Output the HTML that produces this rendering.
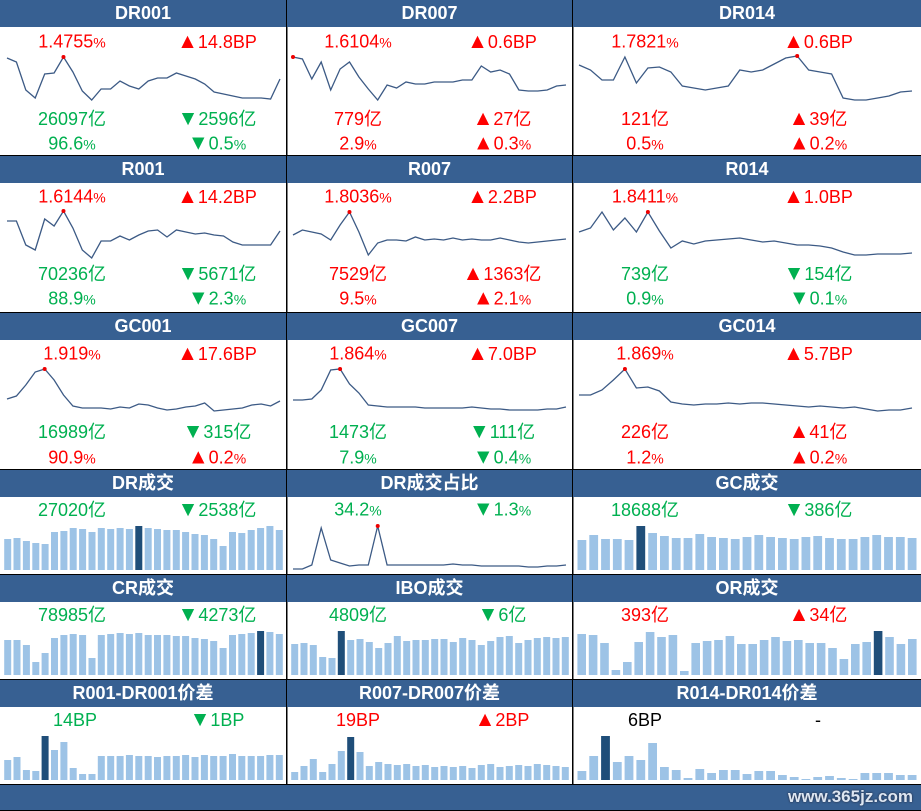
<!DOCTYPE html>
<html><head><meta charset="utf-8"><style>
body{margin:0;width:921px;height:811px;background:#fff;overflow:hidden;position:relative;font-family:"Liberation Sans","Noto Sans CJK SC",sans-serif}
.h{position:absolute;height:27px;background:#376092;color:#fff;font-weight:bold;font-size:18px;line-height:27px;text-align:center}
.t{position:absolute;font-size:18px;line-height:20px;transform:translate(-50%,-50%);white-space:nowrap}
.r{color:#f00}.g{color:#00b050}.k{color:#000}
.t small{font-size:14px}
.t b{font-weight:normal;font-size:21px}
svg{position:absolute;left:0;top:0}
</style></head><body>
<svg id="s" width="921" height="811"></svg>
<div class="h" style="left:0;top:0;width:286px">DR001</div>
<div class="h" style="left:287px;top:0;width:285px">DR007</div>
<div class="h" style="left:573px;top:0;width:348px">DR014</div>
<div class="h" style="left:0;top:156px;width:286px">R001</div>
<div class="h" style="left:287px;top:156px;width:285px">R007</div>
<div class="h" style="left:573px;top:156px;width:348px">R014</div>
<div class="h" style="left:0;top:313px;width:286px">GC001</div>
<div class="h" style="left:287px;top:313px;width:285px">GC007</div>
<div class="h" style="left:573px;top:313px;width:348px">GC014</div>
<div class="h" style="left:0;top:470px;width:286px">DR成交</div>
<div class="h" style="left:287px;top:470px;width:285px">DR成交占比</div>
<div class="h" style="left:573px;top:470px;width:348px">GC成交</div>
<div class="h" style="left:0;top:575px;width:286px">CR成交</div>
<div class="h" style="left:287px;top:575px;width:285px">IBO成交</div>
<div class="h" style="left:573px;top:575px;width:348px">OR成交</div>
<div class="h" style="left:0;top:680px;width:286px">R001-DR001价差</div>
<div class="h" style="left:287px;top:680px;width:285px">R007-DR007价差</div>
<div class="h" style="left:573px;top:680px;width:348px">R014-DR014价差</div>
<div class="h" style="left:0;top:785px;width:921px;height:25px"></div>
<div style="position:absolute;right:8px;top:787px;color:#dde6f2;font-size:17px;font-weight:bold;text-shadow:0 0 2px #223">www.365jz.com</div>

<div class="t r" style="left:72px;top:42px">1.4755<small>%</small></div><div class="t r" style="left:217px;top:42px"><b>▲</b>14.8BP</div>
<div class="t g" style="left:72px;top:119px">26097亿</div><div class="t g" style="left:217px;top:119px"><b>▼</b>2596亿</div>
<div class="t g" style="left:72px;top:144px">96.6<small>%</small></div><div class="t g" style="left:217px;top:144px"><b>▼</b>0.5<small>%</small></div>
<div class="t r" style="left:358px;top:42px">1.6104<small>%</small></div><div class="t r" style="left:502px;top:42px"><b>▲</b>0.6BP</div>
<div class="t r" style="left:358px;top:119px">779亿</div><div class="t r" style="left:502px;top:119px"><b>▲</b>27亿</div>
<div class="t r" style="left:358px;top:144px">2.9<small>%</small></div><div class="t r" style="left:502px;top:144px"><b>▲</b>0.3<small>%</small></div>
<div class="t r" style="left:645px;top:42px">1.7821<small>%</small></div><div class="t r" style="left:818px;top:42px"><b>▲</b>0.6BP</div>
<div class="t r" style="left:645px;top:119px">121亿</div><div class="t r" style="left:818px;top:119px"><b>▲</b>39亿</div>
<div class="t r" style="left:645px;top:144px">0.5<small>%</small></div><div class="t r" style="left:818px;top:144px"><b>▲</b>0.2<small>%</small></div>

<div class="t r" style="left:72px;top:197px">1.6144<small>%</small></div><div class="t r" style="left:217px;top:197px"><b>▲</b>14.2BP</div>
<div class="t g" style="left:72px;top:274px">70236亿</div><div class="t g" style="left:217px;top:274px"><b>▼</b>5671亿</div>
<div class="t g" style="left:72px;top:299px">88.9<small>%</small></div><div class="t g" style="left:217px;top:299px"><b>▼</b>2.3<small>%</small></div>
<div class="t r" style="left:358px;top:197px">1.8036<small>%</small></div><div class="t r" style="left:502px;top:197px"><b>▲</b>2.2BP</div>
<div class="t r" style="left:358px;top:274px">7529亿</div><div class="t r" style="left:502px;top:274px"><b>▲</b>1363亿</div>
<div class="t r" style="left:358px;top:299px">9.5<small>%</small></div><div class="t r" style="left:502px;top:299px"><b>▲</b>2.1<small>%</small></div>
<div class="t r" style="left:645px;top:197px">1.8411<small>%</small></div><div class="t r" style="left:818px;top:197px"><b>▲</b>1.0BP</div>
<div class="t g" style="left:645px;top:274px">739亿</div><div class="t g" style="left:818px;top:274px"><b>▼</b>154亿</div>
<div class="t g" style="left:645px;top:299px">0.9<small>%</small></div><div class="t g" style="left:818px;top:299px"><b>▼</b>0.1<small>%</small></div>

<div class="t r" style="left:72px;top:354px">1.919<small>%</small></div><div class="t r" style="left:217px;top:354px"><b>▲</b>17.6BP</div>
<div class="t g" style="left:72px;top:432px">16989亿</div><div class="t g" style="left:217px;top:432px"><b>▼</b>315亿</div>
<div class="t r" style="left:72px;top:458px">90.9<small>%</small></div><div class="t r" style="left:217px;top:458px"><b>▲</b>0.2<small>%</small></div>
<div class="t r" style="left:358px;top:354px">1.864<small>%</small></div><div class="t r" style="left:502px;top:354px"><b>▲</b>7.0BP</div>
<div class="t g" style="left:358px;top:432px">1473亿</div><div class="t g" style="left:502px;top:432px"><b>▼</b>111亿</div>
<div class="t g" style="left:358px;top:458px">7.9<small>%</small></div><div class="t g" style="left:502px;top:458px"><b>▼</b>0.4<small>%</small></div>
<div class="t r" style="left:645px;top:354px">1.869<small>%</small></div><div class="t r" style="left:818px;top:354px"><b>▲</b>5.7BP</div>
<div class="t r" style="left:645px;top:432px">226亿</div><div class="t r" style="left:818px;top:432px"><b>▲</b>41亿</div>
<div class="t r" style="left:645px;top:458px">1.2<small>%</small></div><div class="t r" style="left:818px;top:458px"><b>▲</b>0.2<small>%</small></div>

<div class="t g" style="left:72px;top:510px">27020亿</div><div class="t g" style="left:217px;top:510px"><b>▼</b>2538亿</div>
<div class="t g" style="left:358px;top:510px">34.2<small>%</small></div><div class="t g" style="left:502px;top:510px"><b>▼</b>1.3<small>%</small></div>
<div class="t g" style="left:645px;top:510px">18688亿</div><div class="t g" style="left:818px;top:510px"><b>▼</b>386亿</div>
<div class="t g" style="left:72px;top:615px">78985亿</div><div class="t g" style="left:217px;top:615px"><b>▼</b>4273亿</div>
<div class="t g" style="left:358px;top:615px">4809亿</div><div class="t g" style="left:502px;top:615px"><b>▼</b>6亿</div>
<div class="t r" style="left:645px;top:615px">393亿</div><div class="t r" style="left:818px;top:615px"><b>▲</b>34亿</div>
<div class="t g" style="left:75px;top:720px">14BP</div><div class="t g" style="left:217px;top:720px"><b>▼</b>1BP</div>
<div class="t r" style="left:358px;top:720px">19BP</div><div class="t r" style="left:502px;top:720px"><b>▲</b>2BP</div>
<div class="t k" style="left:645px;top:720px">6BP</div><div class="t k" style="left:818px;top:720px">-</div>

<script>
var s=document.getElementById('s'),h='';
var cols=[[7,280],[293,566],[579,912]];
function line(c,ys,pk){var a=cols[c][0],b=cols[c][1],n=ys.length,p=[];
for(var i=0;i<n;i++)p.push((a+(b-a)*i/(n-1)).toFixed(1)+','+ys[i]);
h+='<polyline points="'+p.join(' ')+'" fill="none" stroke="#3c5a85" stroke-width="1.3"/>';
if(pk!=null){var x=a+(b-a)*pk/(n-1);h+='<circle cx="'+x+'" cy="'+ys[pk]+'" r="2" fill="#e00"/>';}}
function bars(c,base,tops,dk){var L=[3,290,576][c],R=[284,570,918][c],n=tops.length,st=(R-L)/n,w=st*0.75;
for(var i=0;i<n;i++){h+='<rect x="'+(L+i*st+(st-w)/2).toFixed(1)+'" y="'+tops[i]+'" width="'+w.toFixed(1)+'" height="'+(base-tops[i])+'" fill="'+(i==dk?'#1f4e79':'#9dc3e6')+'"/>';}}
line(0,[58,62,90,98,74,73,57,72,91,100,89,89,81,86,89,81,78,78,73,76,79,84,92,94,96,98,98,98,99,79],6);
line(1,[57,59,79,62,90,69,62,77,89,100,85,88,82,84,84,82,82,82,80,80,66,72,70,74,90,91,91,90,86,85],0);
line(2,[65,70,80,80,57,83,68,67,72,86,88,90,88,86,70,72,70,64,58,56,70,72,74,98,100,100,98,96,92,91],19);
line(0,[221,221,245,250,219,226,211,228,250,258,241,241,236,240,235,231,230,237,230,232,234,233,235,236,242,245,245,245,245,231],6);
line(1,[235,230,232,234,240,225,212,232,255,243,240,240,241,237,240,239,240,238,240,239,240,240,238,240,242,243,242,241,240,239],6);
line(2,[232,228,212,230,218,232,212,231,248,241,244,241,240,239,238,240,242,241,243,245,245,246,248,252,255,255,254,254,254,253],6);
line(0,[399,396,385,372,369,380,395,406,408,408,408,409,407,408,404,405,408,410,409,407,406,403,411,410,409,408,405,404,406,401],4);
line(1,[400,400,399,390,370,369,384,393,405,406,407,407,407,407,408,408,408,408,408,407,408,409,409,410,410,410,410,409,409,407],5);
line(2,[395,395,390,380,369,388,387,391,402,404,405,404,404,403,404,403,403,404,405,406,407,406,407,408,407,409,411,410,410,408],4);
line(1,[569,569,565,528,560,563,566,565,565,526,565,565,565,565,565,565,565,564,565,565,566,566,566,566,566,567,567,566,566,565],9);
bars(0,570,[539,538,541,543,544,532,531,528,529,532,528,529,528,529,526,528,529,530,530,532,534,535,539,546,532,533,530,528,526,530],14);
bars(2,570,[540,535,539,539,540,526,533,536,538,538,534,537,538,539,537,535,537,538,539,537,536,538,539,539,537,535,537,537,538],5);
bars(0,675,[640,640,645,662,653,638,635,634,635,658,635,634,633,634,633,635,635,635,636,636,638,639,641,648,635,634,633,631,632,634],27);
bars(1,675,[644,643,645,657,658,631,640,639,642,648,643,636,641,640,640,639,639,642,638,640,645,641,637,636,643,640,638,637,638,637],5);
bars(2,675,[634,635,643,670,662,642,632,637,635,671,643,641,640,636,644,644,640,637,641,640,643,643,648,659,644,642,631,637,644,639],26);
bars(0,780,[760,757,770,771,736,750,742,768,774,774,756,756,756,755,756,756,757,756,756,755,757,755,756,756,754,756,756,756,755,755],4);
bars(1,780,[772,766,759,772,764,751,737,752,766,762,764,765,764,766,765,767,766,767,766,768,765,764,767,766,765,766,764,765,766,767],6);
bars(2,780,[771,756,736,762,756,760,743,767,770,778,769,773,770,770,774,771,771,775,777,779,777,776,778,779,773,773,773,775,775],2);
var ln='#000';
[155,312,469,574,679,784].forEach(function(y){h+='<rect x="0" y="'+y+'" width="921" height="1.5" fill="'+ln+'"/>';});
h+='<rect x="0" y="809.5" width="921" height="1.5" fill="#000"/>';
h+='<rect x="286" y="0" width="1.5" height="784" fill="#000"/><rect x="572" y="0" width="1.5" height="784" fill="#000"/>';
s.innerHTML=h;
</script>
</body></html>
